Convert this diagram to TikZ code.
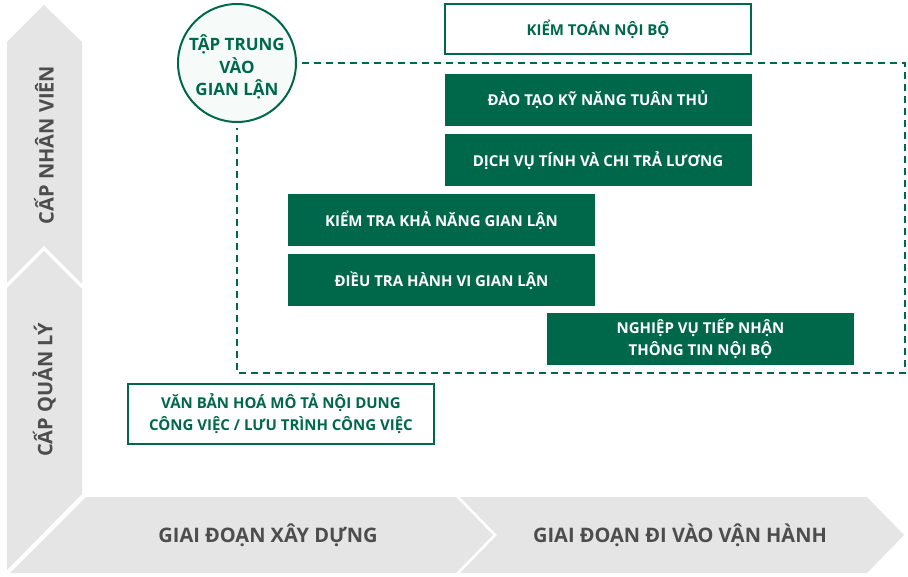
\documentclass[tikz,border=0pt]{standalone}
\usepackage{fontspec}
\setmainfont{Open Sans}
\usetikzlibrary{positioning}
\definecolor{ftgreen}{RGB}{0,104,74}
\definecolor{ftband}{RGB}{229,229,229}
\definecolor{ftgrey}{RGB}{77,77,77}
\definecolor{ftpale}{RGB}{246,251,249}
\newcommand{\boxfont}{\bfseries\fontsize{15}{22}\selectfont}
\newcommand{\bandfont}{\bfseries\fontsize{20}{24}\selectfont}

\begin{document}
\begin{tikzpicture}[x=1pt, y=-1pt, node distance=8pt,
	solidbox/.style={fill=ftgreen, text=white, minimum width=307pt, minimum height=52pt, inner sep=0pt, align=center, font=\boxfont},
	openbox/.style={draw=ftgreen, line width=2pt, fill=white, text=ftgreen, minimum width=306pt, minimum height=50pt, inner sep=0pt, align=center, font=\boxfont},
	band/.style={fill=ftband},
	bandlabel/.style={text=ftgrey, font=\bandfont},
	frame/.style={draw=ftgreen, line width=2pt, dash pattern=on 7pt off 5pt}]
	\useasboundingbox (0,0) rectangle (908,577);

	\fill[band] (7,42) -- (44,5) -- (82,42) -- (82,284) -- (44,246) -- (7,283) -- cycle;
	\fill[band] (7,288) -- (44,251) -- (82,289) -- (82,494) -- (7,570) -- cycle;
	\fill[band] (86,497) -- (456,497) -- (493,535) -- (456,573) -- (10,573) -- cycle;
	\fill[band] (460,497) -- (867,497) -- (904,535) -- (867,573) -- (460,573) -- (497,535) -- cycle;

	\node[bandlabel, rotate=90] (staff) at (44,145) {CẤP NHÂN VIÊN};
	\node[bandlabel, rotate=90] (mgmt) at (44,390) {CẤP QUẢN LÝ};
	\node[bandlabel] (build) at (268,535) {GIAI ĐOẠN XÂY DỰNG};
	\node[bandlabel] (run) at (680,535) {GIAI ĐOẠN ĐI VÀO VẬN HÀNH};

	\node[circle, draw=ftgreen, line width=2pt, fill=ftpale, minimum size=118pt, inner sep=0pt] (focus) at (237,63) {};
	\node[align=center, text=ftgreen, font=\bfseries\fontsize{17}{22.5}\selectfont] (focustext) at ([yshift=-4pt]focus.center) {TẬP TRUNG\\VÀO\\GIAN LẬN};

	\node[openbox] (audit) at (598,29) {KIỂM TOÁN NỘI BỘ};
	\node[solidbox] (train) at (598,100) {ĐÀO TẠO KỸ NĂNG TUÂN THỦ};
	\node[solidbox, below=of train] (payroll) {DỊCH VỤ TÍNH VÀ CHI TRẢ LƯƠNG};
	\node[solidbox] (check) at (441.5,220) {KIỂM TRA KHẢ NĂNG GIAN LẬN};
	\node[solidbox, below=of check] (probe) {ĐIỀU TRA HÀNH VI GIAN LẬN};
	\node[solidbox] (hotline) at (700.5,339) {NGHIỆP VỤ TIẾP NHẬN\\THÔNG TIN NỘI BỘ};
	\node[openbox, minimum height=60pt] (docs) at (281,414) {VĂN BẢN HOÁ MÔ TẢ NỘI DUNG\\CÔNG VIỆC / LƯU TRÌNH CÔNG VIỆC};

	\coordinate (ne) at (905,63);
	\coordinate (se) at (905,373);
	\coordinate (sw) at (237,373);
	\draw[frame, shorten <=5pt, shorten >=5pt] (focus.east) -- (ne) -- (se) -- (sw) -- (focus.south);
\end{tikzpicture}
\end{document}
